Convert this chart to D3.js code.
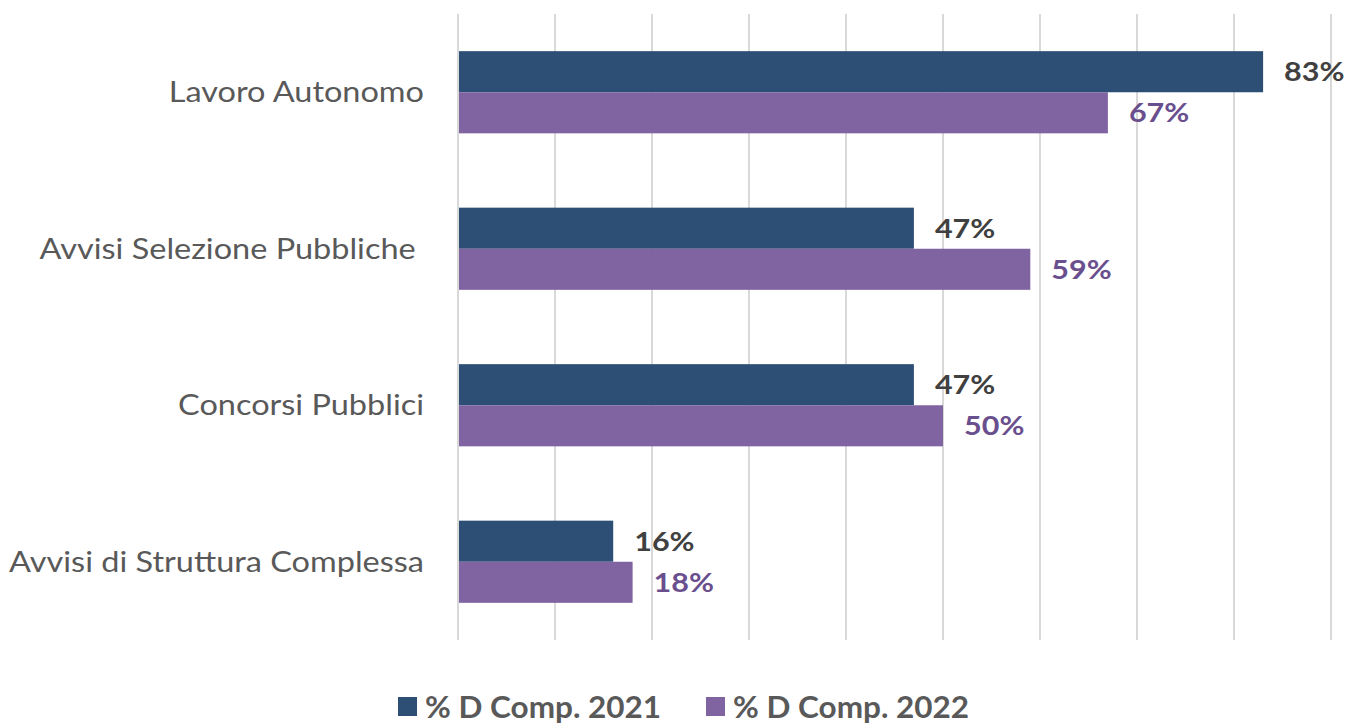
<!DOCTYPE html>
<html><head><meta charset="utf-8">
<script src="https://cdn.jsdelivr.net/npm/d3@7/dist/d3.min.js"></script>
<style>body{margin:0;background:#fff}svg{display:block}</style>
</head><body>
<svg id="c" width="1347" height="724"></svg>
<script>
const categories = ["Lavoro Autonomo", "Avvisi Selezione Pubbliche ", "Concorsi Pubblici", "Avvisi di Struttura Complessa"];
const series2021 = [83, 47, 47, 16];
const series2022 = [67, 59, 50, 18];
const seriesNames = ["% D Comp. 2021", "% D Comp. 2022"];
const ticks = [0, 10, 20, 30, 40, 50, 60, 70, 80, 90];

const colors = ["#2D4E75", "#8064A2"];
const labelColors = ["#404040", "#6A4F8E"];
const font = "Lato, 'Open Sans', sans-serif";

const svg = d3.select("#c");
const x = d3.scaleLinear().domain([0, 90]).range([458, 1331]);
const y = d3.scaleBand().domain(categories).range([14, 640]).paddingInner(0.475).paddingOuter(0.2375);
const sub = d3.scaleBand().domain([0, 1]).range([0, y.bandwidth()]);

// gridlines
svg.append("g").selectAll("line").data(ticks).join("line")
  .attr("x1", d => x(d)).attr("x2", d => x(d))
  .attr("y1", 14).attr("y2", 640)
  .attr("stroke", "#D9D9D9").attr("stroke-width", 2);

const data = [];
categories.forEach((c, i) => {
  data.push({c, s: 0, v: series2021[i]});
  data.push({c, s: 1, v: series2022[i]});
});

svg.append("g").selectAll("rect").data(data).join("rect")
  .attr("x", x(0) + 1)
  .attr("y", d => y(d.c) + sub(d.s))
  .attr("width", d => x(d.v) - x(0) - 1)
  .attr("height", sub.bandwidth())
  .attr("fill", d => colors[d.s]);

svg.append("g").selectAll("text").data(data).join("text")
  .attr("transform", d => `translate(${x(d.v) + 21},${y(d.c) + sub(d.s) + sub.bandwidth() / 2}) scale(1.13,1)`)
  .attr("dy", "0.35em")
  .attr("font-family", font).attr("font-weight", "bold").attr("font-size", 27)
  .attr("fill", d => labelColors[d.s])
  .text(d => d.v + "%");

// category labels
svg.append("g").selectAll("text").data(categories).join("text")
  .attr("transform", d => `translate(424,${y(d) + y.bandwidth() / 2}) scale(1.16,1)`)
  .attr("dy", "0.35em")
  .attr("text-anchor", "end")
  .attr("font-family", font).attr("font-size", 28)
  .attr("fill", "#595959")
  .style("white-space", "pre")
  .text(d => d);

// legend
const legX = [398, 706];
const lg = svg.append("g").selectAll("g").data(seriesNames).join("g")
  .attr("transform", (d, i) => `translate(${legX[i]},697)`);
lg.append("rect").attr("width", 19).attr("height", 19).attr("fill", (d, i) => colors[i]);
lg.append("text").attr("transform", "translate(27,10) scale(1.05,1)").attr("dy", "0.35em")
  .attr("font-family", font).attr("font-weight", "bold").attr("font-size", 30)
  .attr("fill", "#595959").text(d => d);
</script>
</body></html>
